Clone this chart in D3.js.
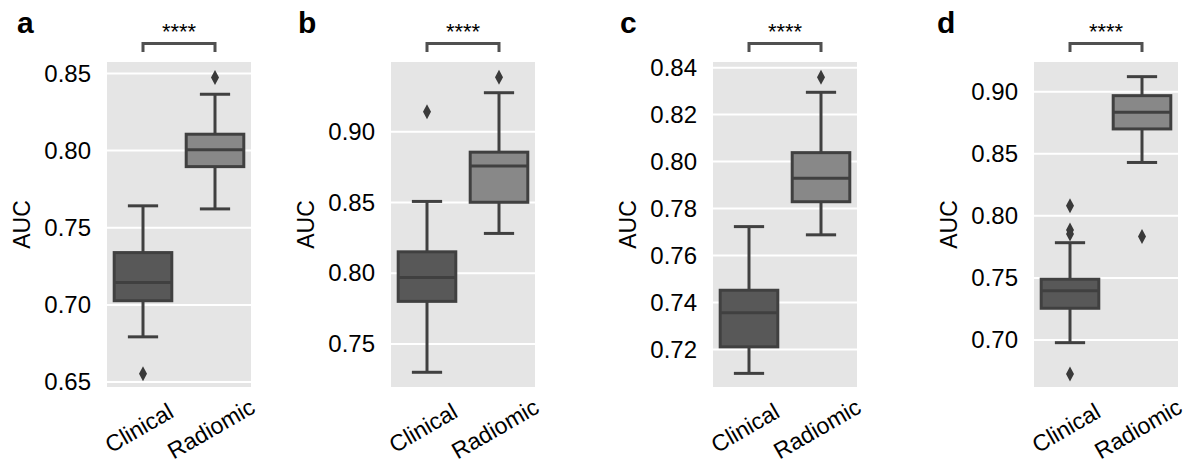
<!DOCTYPE html>
<html>
<head>
<meta charset="utf-8">
<script src="https://cdn.jsdelivr.net/npm/d3@7"></script>
<style>
  html, body { margin: 0; padding: 0; background: #ffffff; }
  svg { display: block; font-family: "Liberation Sans", Arial, Helvetica, sans-serif; }
</style>
</head>
<body>
<svg id="chart" width="1188" height="465"></svg>
<script>
// ---------------- DATA ----------------
const categories = ["Clinical", "Radiomic"];
const panelLabels = ["a", "b", "c", "d"];
const yLabel = "AUC";
const sigLabel = "****";

// box statistics per panel: [lower whisker, Q1, median, Q3, upper whisker]
const clinicalStats = [
  [0.6793, 0.7027, 0.7145, 0.7339, 0.7642],
  [0.7300, 0.7801, 0.7970, 0.8151, 0.8507],
  [0.7098, 0.7211, 0.7356, 0.7452, 0.7723],
  [0.6979, 0.7256, 0.7398, 0.7490, 0.7784]
];
const radiomicStats = [
  [0.7622, 0.7896, 0.8005, 0.8106, 0.8365],
  [0.8281, 0.8501, 0.8758, 0.8855, 0.9275],
  [0.7688, 0.7829, 0.7929, 0.8038, 0.8295],
  [0.8430, 0.8700, 0.8834, 0.8968, 0.9121]
];
const clinicalOutliers = [
  [0.6554],
  [0.9141],
  [],
  [0.8082, 0.7886, 0.7855, 0.6727]
];
const radiomicOutliers = [
  [0.8473],
  [0.9384],
  [0.8359],
  [0.7833]
];

// y-axis ranges and tick labels per panel
const yDomains = [
  [0.6468, 0.8574],
  [0.7196, 0.9492],
  [0.7040, 0.8424],
  [0.6622, 0.9239]
];
const yTicks = [
  [0.65, 0.70, 0.75, 0.80, 0.85],
  [0.75, 0.80, 0.85, 0.90],
  [0.72, 0.74, 0.76, 0.78, 0.80, 0.82, 0.84],
  [0.70, 0.75, 0.80, 0.85, 0.90]
];

// ---------------- LAYOUT / STYLE ----------------
const plotLefts = [107, 391, 713, 1034];
const plotWidth = 144;
const plotTop = 62, plotBottom = 387;
const bgColor = "#e5e5e5";
const lineColor = "#404040";
const boxFills = ["#585858", "#888888"];
const tickFont = 24;
const svgH = 465;

const svg = d3.select("#chart");

panelLabels.forEach((lab, i) => {
  const x0 = plotLefts[i];
  const g = svg.append("g");

  const x = d3.scaleBand().domain(categories).range([x0, x0 + plotWidth]).paddingInner(0).paddingOuter(0);
  const y = d3.scaleLinear().domain(yDomains[i]).range([plotBottom, plotTop]);
  const bw = x.bandwidth();

  g.append("rect")
    .attr("x", x0).attr("y", plotTop)
    .attr("width", plotWidth).attr("height", plotBottom - plotTop)
    .attr("fill", bgColor);

  const yAxis = d3.axisLeft(y).tickValues(yTicks[i]).tickSize(0).tickPadding(16)
    .tickFormat(d3.format(".2f"));
  const ag = g.append("g").attr("transform", `translate(${x0},0)`).call(yAxis);
  ag.select(".domain").remove();
  ag.selectAll("text").attr("font-size", tickFont).attr("fill", "#000")
    .attr("font-family", "'Liberation Sans', Arial, sans-serif");

  g.append("g").selectAll("line").data(yTicks[i]).join("line")
    .attr("x1", x0).attr("x2", x0 + plotWidth)
    .attr("y1", d => y(d)).attr("y2", d => y(d))
    .attr("stroke", "#ffffff").attr("stroke-width", 2);

  const statsList = [clinicalStats[i], radiomicStats[i]];
  const outList = [clinicalOutliers[i], radiomicOutliers[i]];
  categories.forEach((cat, j) => {
    const s = statsList[j];
    const cx = x(cat) + bw / 2;
    const boxW = bw * 0.8;
    const capW = bw * 0.42;
    const bg = g.append("g");
    bg.append("line").attr("x1", cx).attr("x2", cx)
      .attr("y1", y(s[3])).attr("y2", y(s[4]))
      .attr("stroke", lineColor).attr("stroke-width", 3);
    bg.append("line").attr("x1", cx).attr("x2", cx)
      .attr("y1", y(s[1])).attr("y2", y(s[0]))
      .attr("stroke", lineColor).attr("stroke-width", 3);
    [s[0], s[4]].forEach(v => {
      bg.append("line").attr("x1", cx - capW / 2).attr("x2", cx + capW / 2)
        .attr("y1", y(v)).attr("y2", y(v))
        .attr("stroke", lineColor).attr("stroke-width", 3);
    });
    bg.append("rect")
      .attr("x", cx - boxW / 2).attr("y", y(s[3]))
      .attr("width", boxW).attr("height", y(s[1]) - y(s[3]))
      .attr("fill", boxFills[j]).attr("stroke", lineColor).attr("stroke-width", 3);
    bg.append("line").attr("x1", cx - boxW / 2).attr("x2", cx + boxW / 2)
      .attr("y1", y(s[2])).attr("y2", y(s[2]))
      .attr("stroke", lineColor).attr("stroke-width", 3);
    bg.selectAll("path.out").data(outList[j]).join("path")
      .attr("class", "out")
      .attr("d", d => {
        const yy = y(d), hw = 4, hh = 7.5;
        return `M${cx},${yy - hh}L${cx + hw},${yy}L${cx},${yy + hh}L${cx - hw},${yy}Z`;
      })
      .attr("fill", "#3a3a3a");
  });

  // x tick labels rotated 30 degrees
  categories.forEach(cat => {
    const cx = x(cat) + bw / 2 - 4;
    const t = g.append("text").text(cat)
      .attr("font-size", 23).attr("fill", "#000")
      .attr("text-anchor", "middle").attr("dy", "0.36em");
    const w = t.node().getComputedTextLength();
    const H = 16.5;
    let cy = plotBottom + 15 + (w * 0.5 + H * 0.866) / 2;
    t.attr("x", cx).attr("y", cy).attr("transform", `rotate(-30,${cx},${cy})`);
    const r = t.node().getBoundingClientRect();
    if (r.bottom > svgH - 1) {
      cy -= (r.bottom - (svgH - 1));
      t.attr("y", cy).attr("transform", `rotate(-30,${cx},${cy})`);
    }
  });

  const ly = (plotTop + plotBottom) / 2;
  const lx = x0 - 85;
  g.append("text").text(yLabel)
    .attr("x", lx).attr("y", ly).attr("dy", "0.36em")
    .attr("text-anchor", "middle").attr("font-size", 23).attr("fill", "#000")
    .attr("transform", `rotate(-90,${lx},${ly})`);

  const letterX = [17, 298, 620, 937][i];
  g.append("text").text(lab)
    .attr("x", letterX).attr("y", 33)
    .attr("font-size", 30).attr("font-weight", "bold").attr("fill", "#000");

  const c1 = x(categories[0]) + bw / 2, c2 = x(categories[1]) + bw / 2;
  g.append("path")
    .attr("d", `M${c1},52L${c1},43.5L${c2},43.5L${c2},52`)
    .attr("fill", "none").attr("stroke", "#505050").attr("stroke-width", 3);
  g.append("text").text(sigLabel)
    .attr("x", (c1 + c2) / 2).attr("y", 39)
    .attr("text-anchor", "middle").attr("font-size", 22).attr("fill", "#000");
});
</script>
</body>
</html>
